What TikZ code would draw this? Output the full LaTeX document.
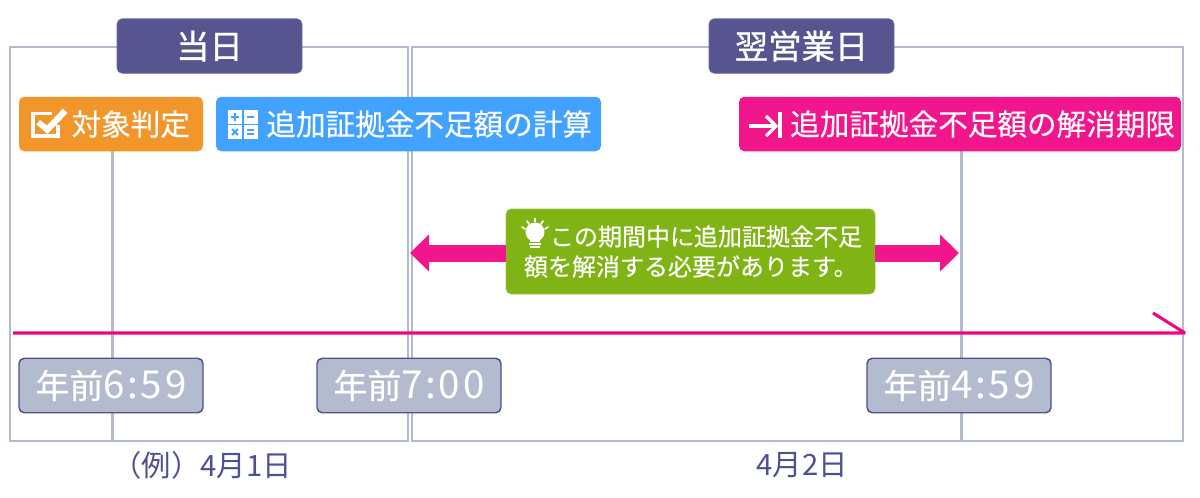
\documentclass[tikz,border=0pt]{standalone}
\usepackage{fontspec}
\setmainfont[FakeBold=0.25]{Noto Sans CJK JP}
\newfontfamily\headf[FakeBold=0.9]{Noto Sans CJK JP}
\newfontfamily\lightf{Noto Sans CJK JP}
\newfontfamily\dgf[LetterSpace=7,Scale=1.14]{Noto Sans CJK JP}
\usetikzlibrary{arrows.meta,calc}
\newcommand{\pxu}{0.75pt}
\definecolor{navy}{HTML}{565590}
\definecolor{navyline}{HTML}{4F4F96}
\definecolor{orangec}{HTML}{F0962A}
\definecolor{bluec}{HTML}{42A2FF}
\definecolor{pinkc}{HTML}{F2168C}
\definecolor{greenc}{HTML}{80B414}
\definecolor{framec}{HTML}{B3BBCF}
\definecolor{linec}{HTML}{F0047F}
\tikzset{
  x=0.75pt,y=-0.75pt,
  framebox/.style={draw=framec,line width=1.6pt,minimum width=#1*\pxu,minimum height=394*\pxu,inner sep=0pt,fill=none},
  guide/.style={draw=framec,line width=1.8pt},
  chip/.style={rounded corners=4pt,text=white,inner sep=0pt,minimum height=54.5*\pxu},
  dayhead/.style={chip,fill=navy,draw=navy!85!white,line width=.6pt,minimum width=185*\pxu,font=\fontsize{25}{28}\headf},
  task/.style n args={3}{chip,fill=#1,minimum width=#2*\pxu,text width=(#2-2*#3)*\pxu,inner xsep=#3*\pxu,align=right,font=\fontsize{22.2}{26}\selectfont},
  timebox/.style={chip,fill=framec,draw=navyline,line width=1.1pt,minimum width=184*\pxu,font=\fontsize{25.4}{28}\selectfont},
  daylabel/.style={text=navyline,inner sep=0pt,font=\fontsize{22}{26}\lightf},
  fat/.style={draw=pinkc,line width=17*\pxu,-{Triangle[length=19*\pxu,width=36*\pxu]}},
  timeline/.style={draw=linec,line width=2.3pt,line join=bevel},
}
\begin{document}
\begin{tikzpicture}
\useasboundingbox (0,0) rectangle (1200,497);
% frames
\node[framebox=398] (fL) at (209,244) {};
\node[framebox=771] (fR) at (797.5,244) {};
\coordinate (gA) at (112.5,441);
\coordinate (gB) at (961.5,441);
\coordinate (gAtop) at (112.5,151);
\coordinate (gBtop) at (961.5,151);
\draw[guide] (gAtop) -- (gA);
\draw[guide] (gBtop) -- (gB);
% timeline
\coordinate (t0) at (13,333);
\coordinate (t1) at (1185,333);
\coordinate (t2) at (1153,313);
\draw[timeline] (t0) -- (t1) -- (t2);
% headers
\node[dayhead] (d1) at (209.5,46) {当日};
\node[dayhead] (d2) at (801.5,46) {翌営業日};
% tasks
\node[task={orangec}{184}{13}] (taisho) at (111,124) {対象判定};
\node[task={bluec}{385}{9}] (keisan) at (408.5,124) {追加証拠金不足額の計算};
\node[task={pinkc}{442}{6}] (kigen) at (960,124) {追加証拠金不足額の解消期限};
% fat arrows
\coordinate (tipL) at (410,253);
\coordinate (tipR) at (959,253);
\node[chip,fill=greenc,minimum width=369*\pxu,minimum height=85*\pxu,text width=333*\pxu,inner xsep=18*\pxu,align=left,font=\fontsize{18}{22.5}\selectfont,draw=greenc!80!white,line width=.5pt] (note) at (690.5,251.5)
  {\hspace*{26\dimexpr\pxu\relax}この期間中に追加証拠金不足\\額を解消する必要があります。};
\draw[fat] (note.west |- tipL) -- (tipL);
\draw[fat] (note.east |- tipR) -- (tipR);
% time boxes
\node[timebox] (tm1) at (111,385.5) {年前{\dgf 6:59}};
\node[timebox] (tm2) at (409,385.5) {年前{\dgf 7:00}};
\node[timebox] (tm3) at (959,385.5) {年前{\dgf 4:59}};
% date labels
\node[daylabel] (l1) at (202,465) {（例）4月1日};
\node[daylabel] (l2) at (802,465) {4月2日};
% check icon
\draw[white,line width=3.6*\pxu] (52,113.5) -- (33,113.5) -- (33,136) -- (58,136) -- (58,125);
\fill[white] (40,120) -- (47,125.5) -- (63,108.5) -- (67.5,113) -- (47.5,134) -- (36.5,124.5) -- cycle;
% calculator icon
\foreach \cx/\cy in {228/110,244/110,228/125,244/125}{\fill[white] (\cx,\cy) rectangle ++(13.5,14);}
\draw[bluec,line width=1.8*\pxu] (231,117) -- (239,117) (235,113) -- (235,121);
\draw[bluec,line width=1.8*\pxu] (247,117) -- (254,117);
\draw[bluec,line width=1.8*\pxu] (232,129) -- (238,135) (238,129) -- (232,135);
\draw[bluec,line width=1.8*\pxu] (247,130) -- (254,130) (247,134) -- (254,134);
% arrow-to-bar icon
\draw[white,line width=3.2*\pxu] (749,126) -- (775,126);
\draw[white,line width=3.2*\pxu] (766,116) -- (776,126) -- (766,136);
\fill[white] (778,112) rectangle (781.5,138);
% bulb icon
\fill[white] (535,232) circle (9.5*\pxu);
\fill[white] (530,238) rectangle (540,242);
\draw[white,line width=1.6*\pxu] (529,244) -- (541,244) (530,247) -- (540,247);
\draw[white,line width=1.7*\pxu,line cap=round]
  (522,227) -- (525,229) (527,221) -- (529,224) (535,218.5) -- (535,221.5)
  (543,221) -- (541,224) (548,227) -- (545,229);
\end{tikzpicture}
\end{document}
